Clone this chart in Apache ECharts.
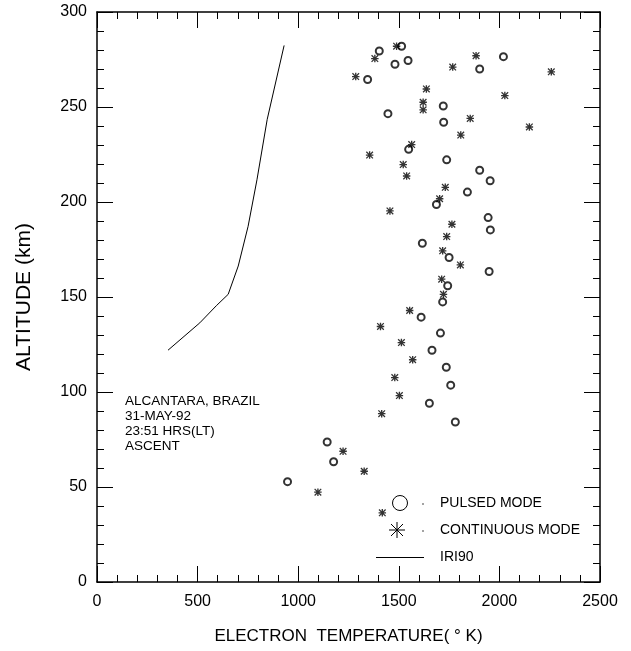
<!DOCTYPE html>
<html>
<head>
<meta charset="utf-8">
<script src="https://cdn.jsdelivr.net/npm/echarts@6/dist/echarts.min.js"></script>
<style>
  html, body { margin: 0; padding: 0; background: #fff; }
  #chart { width: 631px; height: 651px; }
</style>
</head>
<body>
<div id="chart"></div>
<script>
// 脉冲模式 (circles)
const pulsedT = [1514, 1403, 1481, 1546, 2020, 1902, 1345, 1721, 1446, 1723, 1549, 1738, 1902, 1954, 1841, 1687, 1944, 1955, 1617, 1750, 1949, 1743, 1718, 1611, 1707, 1665, 1736, 1758, 1652, 1781, 1144, 1176, 947]
const pulsedAlt = [282, 279.5, 272.5, 274.5, 276.5, 270, 264.5, 250.5, 246.5, 242, 227.7, 222.2, 216.7, 211.2, 205.2, 198.7, 191.8, 185.3, 178.3, 170.8, 163.4, 155.9, 147.4, 139.4, 131, 122, 113, 103.6, 94.1, 84.2, 73.7, 63.3, 52.8]

// 连续模式 (asterisks)
const continuousT = [1489, 1381, 1884, 1768, 2258, 1286, 1637, 2027, 1621, 1621, 1855, 2149, 1808, 1564, 1355, 1522, 1539, 1731, 1703, 1456, 1764, 1738, 1718, 1806, 1713, 1722, 1554, 1409, 1513, 1569, 1480, 1503, 1415, 1223, 1328, 1098, 1418]
const continuousAlt = [282, 275.5, 277, 271, 268.5, 266, 259.5, 256, 252.5, 248.5, 244, 239.5, 235.2, 230.2, 224.7, 219.7, 213.7, 207.7, 201.7, 195.3, 188.3, 181.8, 174.3, 166.9, 159.4, 151.4, 142.9, 134.5, 126, 117, 107.6, 98.1, 88.6, 68.8, 58.3, 47.3, 36.4]

// IRI90 model
const iriT = [353, 511, 593, 652, 702, 751, 795, 846, 930]
const iriAlt = [122, 136.4, 145.4, 151.4, 166.3, 187.2, 211.7, 243.5, 282.4]

const xTicks = [0, 500, 1000, 1500, 2000, 2500]
const yTicks = [0, 50, 100, 150, 200, 250, 300]

const annoLines = ["ALCANTARA, BRAZIL", "31-MAY-92", "23:51 HRS(LT)", "ASCENT"]
const legendNames = ["PULSED MODE", "CONTINUOUS MODE", "IRI90"]

const FONT = "Liberation Sans, Arial, sans-serif"

// asterisk path for data marks
const starBold = "path://M0 41L100 41L100 59L0 59Z M41 0L59 0L59 100L41 100Z M12 0L100 88L88 100L0 12Z M88 0L100 12L12 100L0 88Z"

const zip = (a, b) => a.map((v, i) => [v, b[i]])

const axisCommon = {
  type: "value",
  axisLine: { show: true, onZero: false, lineStyle: { color: "#000", width: 1.5 } },
  axisTick: { show: true, inside: true, length: 16, lineStyle: { color: "#000", width: 1 } },
  minorTick: { show: true, splitNumber: 5, length: 7, lineStyle: { color: "#000", width: 1 } },
  splitLine: { show: false }
}

// legend asterisk drawn as 4 strokes
const legendStar = (cx, cy, r) => {
  const d = r * 0.75
  return [
    [cx - r, cy, cx + r, cy],
    [cx, cy - r, cx, cy + r],
    [cx - d, cy - d, cx + d, cy + d],
    [cx + d, cy - d, cx - d, cy + d]
  ].map((s) => ({
    type: "line",
    shape: { x1: s[0], y1: s[1], x2: s[2], y2: s[3] },
    style: { stroke: "#000", lineWidth: 1 }
  }))
}

const legendText = (y, text) => ({
  type: "text",
  x: 440,
  y: y,
  style: { text: text, font: "14px " + FONT, fill: "#000", verticalAlign: "middle" }
})

const chart = echarts.init(document.getElementById("chart"), null, { renderer: "canvas" })

const option = {
  backgroundColor: "#fff",
  animation: false,
  grid: { left: 97, right: 31, top: 12, bottom: 69, containLabel: false },
  xAxis: [
    Object.assign({}, axisCommon, {
      min: xTicks[0], max: xTicks[xTicks.length - 1], interval: 500,
      position: "bottom",
      name: "ELECTRON  TEMPERATURE( \u00b0 K)",
      nameLocation: "middle", nameGap: 46,
      nameTextStyle: { fontFamily: FONT, fontSize: 17, color: "#000" },
      axisLabel: { margin: 12, fontFamily: FONT, fontSize: 16, color: "#000", formatter: (v) => String(v) }
    }),
    Object.assign({}, axisCommon, {
      min: xTicks[0], max: xTicks[xTicks.length - 1], interval: 500,
      position: "top",
      axisLabel: { show: false }
    })
  ],
  yAxis: [
    Object.assign({}, axisCommon, {
      min: yTicks[0], max: yTicks[yTicks.length - 1], interval: 50,
      position: "left",
      name: "ALTITUDE (km)",
      nameLocation: "middle", nameGap: 62,
      nameTextStyle: { fontFamily: FONT, fontSize: 21, color: "#000" },
      axisLabel: { margin: 10, fontFamily: FONT, fontSize: 16, color: "#000", formatter: (v) => String(v) }
    }),
    Object.assign({}, axisCommon, {
      min: yTicks[0], max: yTicks[yTicks.length - 1], interval: 50,
      position: "right",
      axisLabel: { show: false }
    })
  ],
  series: [
    {
      name: legendNames[2],
      type: "line",
      data: zip(iriT, iriAlt),
      showSymbol: false,
      symbol: "none",
      lineStyle: { color: "#000", width: 1 }
    },
    {
      name: legendNames[0],
      type: "scatter",
      data: zip(pulsedT, pulsedAlt),
      symbol: "emptyCircle",
      symbolSize: 7,
      itemStyle: { color: "#000", borderColor: "#000", borderWidth: 0.8 }
    },
    {
      name: legendNames[1],
      type: "scatter",
      data: zip(continuousT, continuousAlt),
      symbol: starBold,
      symbolSize: 7.5,
      itemStyle: { color: "#000" }
    }
  ],
  graphic: [
    {
      type: "text",
      x: 125,
      y: 394,
      style: {
        text: annoLines.join("\n"),
        font: "13.5px " + FONT,
        lineHeight: 15,
        fill: "#000"
      }
    },
    // legend
    { type: "circle", shape: { cx: 400, cy: 503, r: 7.5 }, style: { fill: "none", stroke: "#000", lineWidth: 1 } },
    { type: "circle", shape: { cx: 423, cy: 504, r: 0.7 }, style: { fill: "#000" } },
    legendText(503, legendNames[0]),
    ...legendStar(397, 530, 8),
    { type: "circle", shape: { cx: 423, cy: 531, r: 0.7 }, style: { fill: "#000" } },
    legendText(530, legendNames[1]),
    { type: "line", shape: { x1: 376, y1: 557.5, x2: 424, y2: 557.5 }, style: { stroke: "#000", lineWidth: 1 } },
    legendText(557, legendNames[2])
  ]
}

chart.setOption(option)
</script>
</body>
</html>
